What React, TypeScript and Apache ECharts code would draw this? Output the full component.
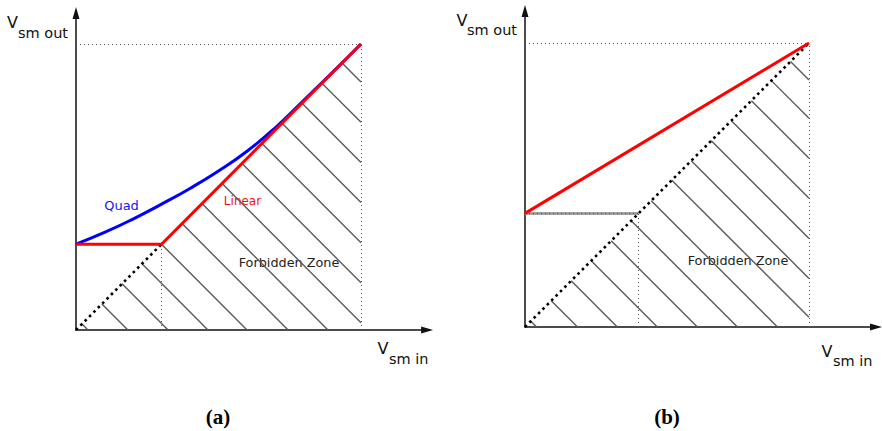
import React, { useEffect, useRef } from "react";
import * as echarts from "echarts";

// Panel (a): linear transfer with an output floor, and the quadratic alternative
const linearA: number[][] = [[0, 3], [3, 3], [10, 10]];
const quadA: number[][] = [
  [0, 3.0], [1, 3.41], [2, 3.88], [3, 4.4], [4, 4.95], [5, 5.56],
  [6, 6.25], [7, 7.08], [8, 8.04], [9, 9.01], [10, 10],
];
const kneeA = 3;

// Panel (b): single linear transfer starting from a higher floor
const linearB: number[][] = [[0, 4], [10, 10]];
const floorB: number[][] = [[0, 4], [4, 4]];
const kneeB = 4;

// Full-scale point of both axes
const fullScale = 10;

// Hatch lines of the forbidden zone, given by where x + y = c meets the Vsm in axis
const hatchA = [0.42, 1.82, 3.23, 4.63, 6.0, 7.44, 8.84, 10.25, 11.65, 13.05, 14.46, 15.86, 17.26, 18.67];
const hatchB = [0.41, 1.85, 3.25, 4.66, 6.07, 7.48, 8.89, 10.34, 11.71, 13.12, 14.53, 15.94, 17.35, 18.7];

const SANS = "DejaVu Sans";

// segment of x + y = c clipped to the triangle under y = x, x <= fullScale
function hatchSegments(cs: number[]) {
  return cs.map((c) => ({
    coords: [
      [c / 2, c / 2],
      c <= fullScale ? [c, 0] : [fullScale, c - fullScale],
    ],
  }));
}

function axisPair(grid: number, xMax: number, yMax: number) {
  const axisLine = {
    show: true,
    symbol: ["none", "triangle"],
    symbolSize: [7, 12],
    lineStyle: { color: "#111", width: 1.5 },
  };
  const common = {
    type: "value" as const,
    gridIndex: grid,
    min: 0,
    axisLine,
    axisTick: { show: false },
    axisLabel: { show: false },
    splitLine: { show: false },
  };
  return {
    x: { ...common, max: xMax },
    y: { ...common, max: yMax },
  };
}

function panelSeries(idx: number, knee: number, hatch: number[], floorGuide: boolean) {
  const ax = { xAxisIndex: idx, yAxisIndex: idx };
  const guides = [
    { coords: [[0, fullScale], [fullScale, fullScale]] },
    { coords: [[fullScale, 0], [fullScale, fullScale]] },
    { coords: [[knee, 0], [knee, knee]] },
  ];
  if (floorGuide) guides.push({ coords: [[0, knee], [knee, knee]] });
  return [
    {
      type: "lines",
      coordinateSystem: "cartesian2d",
      ...ax,
      silent: true,
      lineStyle: { color: "#5a5a5a", width: 1.4, opacity: 1 },
      data: hatchSegments(hatch),
    },
    {
      type: "lines",
      coordinateSystem: "cartesian2d",
      ...ax,
      silent: true,
      z: 3,
      lineStyle: { color: "#555", width: 1, type: [1, 3], opacity: 1 },
      data: guides,
    },
  ];
}

export default function App() {
  const ref = useRef<HTMLDivElement>(null);

  useEffect(() => {
    if (!ref.current) return;
    const chart = echarts.init(ref.current, undefined, { renderer: "svg" });

    const a = axisPair(0, 12.32, 11.08);
    const b = axisPair(1, 12.36, 11.13);

    const diag = (idx: number, end: number) => ({
      type: "line",
      xAxisIndex: idx,
      yAxisIndex: idx,
      data: [[0, 0], [end, end]],
      symbol: "none",
      silent: true,
      lineStyle: { color: "#000", width: 2.6, type: [2.6, 3.6], cap: "butt" },
      z: 3,
    });

    const label = (
      left: number,
      cy: number,
      text: string,
      size: number,
      fill = "#111",
      align = "left"
    ) => ({
      type: "text",
      x: left,
      y: cy,
      silent: true,
      style: {
        text,
        fill,
        font: `${size}px "${SANS}"`,
        align,
        verticalAlign: "middle",
      },
    });

    const axisTitle = (vx: number, vy: number, sx: number, sy: number, sub: string) => [
      label(vx, vy, "V", 16),
      label(sx, sy, sub, 14.5),
    ];

    chart.setOption({
      animation: false,
      backgroundColor: "#fff",
      grid: [
        { left: 76, top: 330 - 11.08 * 28.6, width: 12.32 * 28.5, height: 11.08 * 28.6, outerBoundsMode: "none" },
        { left: 525, top: 327 - 11.13 * 28.4, width: 12.36 * 28.4, height: 11.13 * 28.4, outerBoundsMode: "none" },
      ],
      xAxis: [a.x, b.x],
      yAxis: [a.y, b.y],
      series: [
        ...panelSeries(0, kneeA, hatchA, false),
        diag(0, kneeA),
        {
          type: "line",
          xAxisIndex: 0,
          yAxisIndex: 0,
          data: quadA,
          smooth: true,
          symbol: "none",
          silent: true,
          lineStyle: { color: "#0000ff", width: 3 },
          z: 4,
        },
        {
          type: "line",
          xAxisIndex: 0,
          yAxisIndex: 0,
          data: linearA,
          symbol: "none",
          silent: true,
          lineStyle: { color: "#ff0000", width: 3 },
          z: 5,
        },
        ...panelSeries(1, kneeB, hatchB, true),
        {
          type: "line",
          xAxisIndex: 1,
          yAxisIndex: 1,
          data: floorB,
          symbol: "none",
          silent: true,
          lineStyle: { color: "#a0a0a0", width: 3 },
          z: 2,
        },
        diag(1, fullScale),
        {
          type: "line",
          xAxisIndex: 1,
          yAxisIndex: 1,
          data: linearB,
          symbol: "none",
          silent: true,
          lineStyle: { color: "#ff0000", width: 3 },
          z: 5,
        },
      ],
      graphic: [
        ...axisTitle(7, 22.5, 18, 33, "sm out"),
        ...axisTitle(377.5, 348.5, 389, 359, "sm in"),
        ...axisTitle(456.5, 20, 467, 30, "sm out"),
        ...axisTitle(821.5, 351, 833, 361, "sm in"),
        label(121.5, 205, "Quad", 13, "#1515ee", "center"),
        label(242.5, 201, "Linear", 12, "#ee1111", "center"),
        label(289, 262, "Forbidden Zone", 12.8, "#222", "center"),
        label(738, 260, "Forbidden Zone", 12.8, "#222", "center"),
        {
          type: "text",
          x: 218,
          y: 417,
          silent: true,
          style: { text: "(a)", fill: "#000", font: 'bold 21px "Liberation Serif"', align: "center", verticalAlign: "middle" },
        },
        {
          type: "text",
          x: 667,
          y: 417,
          silent: true,
          style: { text: "(b)", fill: "#000", font: 'bold 21px "Liberation Serif"', align: "center", verticalAlign: "middle" },
        },
      ],
    });

    return () => chart.dispose();
  }, []);

  return (
    <div
      ref={ref}
      style={{ position: "fixed", left: 0, top: 0, width: 882, height: 431 }}
    />
  );
}
